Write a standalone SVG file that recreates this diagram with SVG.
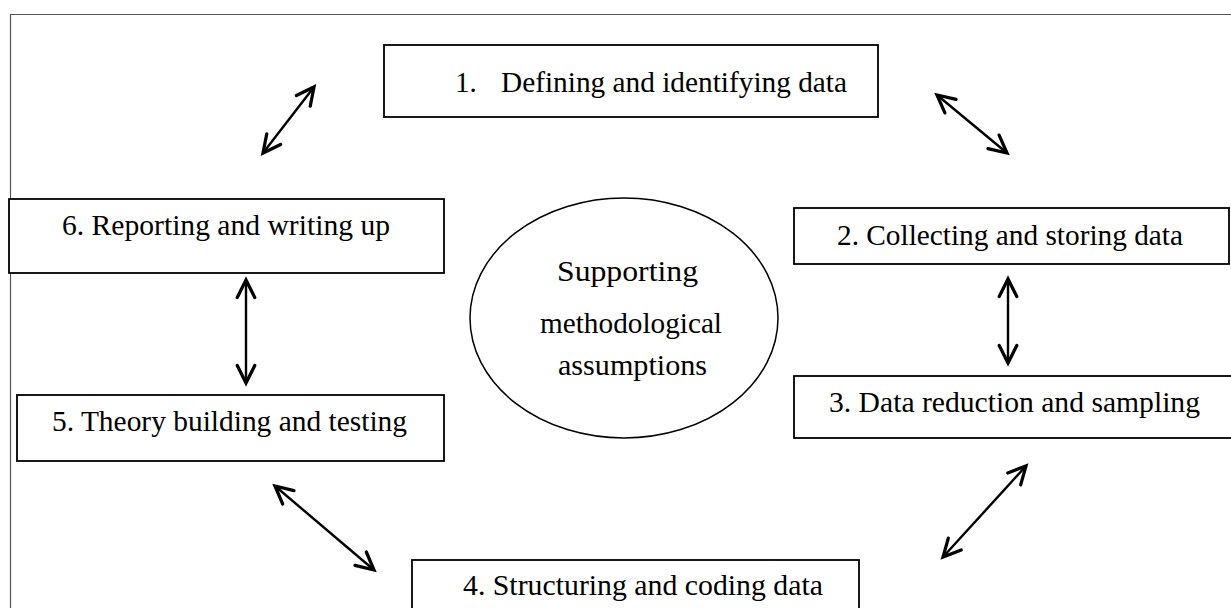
<svg xmlns="http://www.w3.org/2000/svg" width="1231" height="608" viewBox="0 0 1231 608">
  <style>
    .box { fill: #ffffff; stroke: #000000; stroke-width: 1.8; }
    .lbl { font-family: "Liberation Serif", "Times New Roman", serif; font-size: 29px; fill: #000000; }
    .arr { stroke: #000000; stroke-width: 2.4; fill: none; marker-start: url(#ah); marker-end: url(#ah); }
  </style>
  <defs>
    <marker id="ah" markerUnits="userSpaceOnUse" markerWidth="30" markerHeight="30" viewBox="-20 -12 24 24" refX="0" refY="0" orient="auto-start-reverse">
      <path d="M -14,-7 L 0,0 L -14,7" fill="none" stroke="#000000" stroke-width="2.6" stroke-linecap="round" stroke-linejoin="miter"/>
    </marker>
  </defs>
  <rect x="0" y="0" width="1231" height="608" fill="#ffffff"/>
  <path d="M 10.5,608 L 10.5,14.5 L 1231,14.5" fill="none" stroke="#555555" stroke-width="1.2"/>

  <g id="connectors">
    <line class="arr" x1="263" y1="153" x2="314" y2="87"/>
    <line class="arr" x1="937" y1="95" x2="1007" y2="153"/>
    <line class="arr" x1="1008" y1="279" x2="1008" y2="363"/>
    <line class="arr" x1="943" y1="557" x2="1026" y2="466"/>
    <line class="arr" x1="275" y1="486" x2="374" y2="570"/>
    <line class="arr" x1="246" y1="280" x2="246" y2="383"/>
  </g>

  <g id="node1">
    <rect class="box" x="384" y="45" width="494" height="72"/>
    <text class="lbl"><tspan x="455" y="92">1.</tspan><tspan x="501" y="92" textLength="346" lengthAdjust="spacingAndGlyphs">Defining and identifying data</tspan></text>
  </g>
  <g id="node2">
    <rect class="box" x="794" y="208" width="435" height="56"/>
    <text class="lbl" x="837" y="245" textLength="346" lengthAdjust="spacingAndGlyphs">2. Collecting and storing data</text>
  </g>
  <g id="node3">
    <rect class="box" x="794" y="376" width="450" height="62"/>
    <text class="lbl" x="829" y="412" textLength="371" lengthAdjust="spacingAndGlyphs">3. Data reduction and sampling</text>
  </g>
  <g id="node4">
    <rect class="box" x="412" y="560" width="447" height="60"/>
    <text class="lbl" x="463" y="595" textLength="360" lengthAdjust="spacingAndGlyphs">4. Structuring and coding data</text>
  </g>
  <g id="node5">
    <rect class="box" x="17" y="395" width="427" height="66"/>
    <text class="lbl" x="52" y="431" textLength="355" lengthAdjust="spacingAndGlyphs">5. Theory building and testing</text>
  </g>
  <g id="node6">
    <rect class="box" x="9" y="199" width="435" height="74"/>
    <text class="lbl" x="62" y="235" textLength="328" lengthAdjust="spacingAndGlyphs">6. Reporting and writing up</text>
  </g>
  <g id="center">
    <ellipse cx="624" cy="318" rx="154" ry="120" fill="#ffffff" stroke="#000000" stroke-width="1.5"/>
    <text class="lbl" x="557" y="281" textLength="141" lengthAdjust="spacingAndGlyphs">Supporting</text>
    <text class="lbl" x="540" y="333" textLength="182" lengthAdjust="spacingAndGlyphs">methodological</text>
    <text class="lbl" x="558" y="375" textLength="149" lengthAdjust="spacingAndGlyphs">assumptions</text>
  </g>
</svg>
